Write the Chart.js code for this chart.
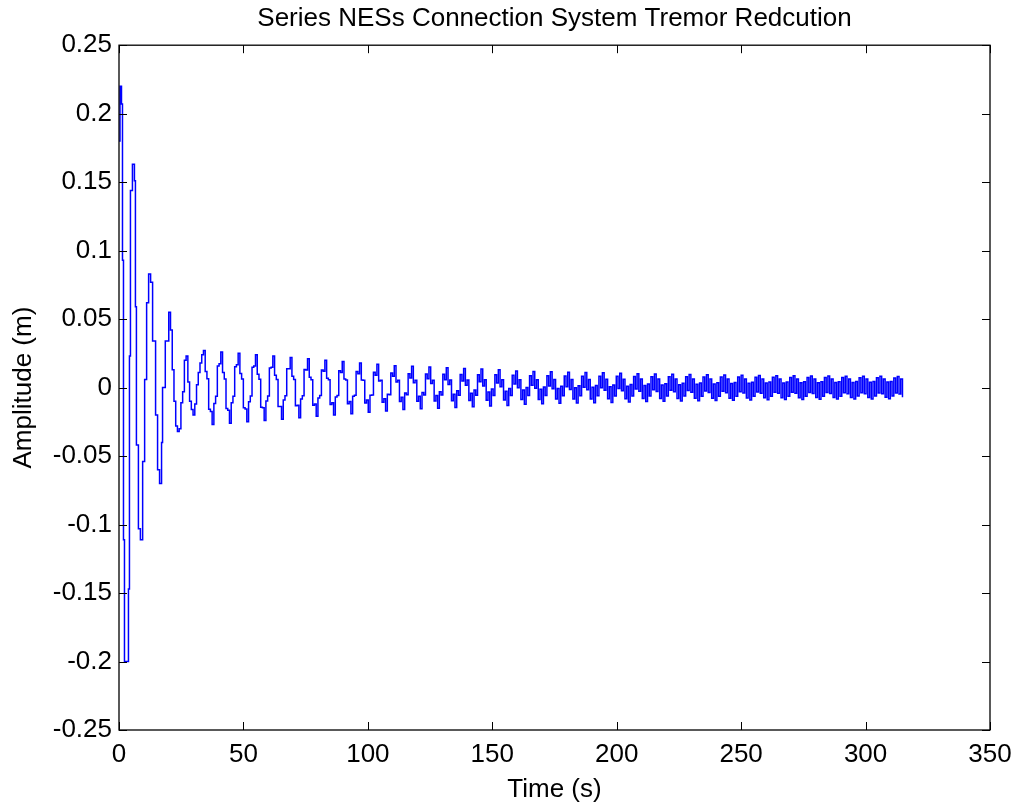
<!DOCTYPE html>
<html>
<head>
<meta charset="utf-8">
<title>Series NESs Connection System Tremor Redcution</title>
<script src="https://cdn.jsdelivr.net/npm/chart.js@4.4.0/dist/chart.umd.min.js"></script>
<style>
  html, body { margin: 0; padding: 0; background: #fff; }
  #wrap { width: 1013px; height: 805px; }
</style>
</head>
<body>
<div id="wrap"><canvas id="myChart" width="1013" height="805"></canvas></div>
<script>
// start-up transient, read step by step (time in s, amplitude in m)
var earlyTime = [0, 0.4, 1.0, 1.4, 1.8, 2.2, 3.8, 4.2, 4.6, 5.4,
                 6.2, 6.6, 7.0, 7.8, 8.6, 9.5, 10.3, 11.1, 11.9, 12.7,
                 13.5, 14.7, 15.5, 16.3, 17.1, 17.5, 18.6];
var earlyAmp = [0.18, 0.22, 0.207, 0.093, -0.111, -0.2, -0.147, 0.023, 0.144, 0.163,
                0.151, 0.059, -0.042, -0.103, -0.111, -0.054, 0.006, 0.062, 0.083, 0.077,
                0.034, -0.02, -0.06, -0.07, -0.04, 0.0, 0.034];

// rest of the record: held samples every 0.697 s from t = 20 s
var sampleStart = 20;
var sampleStep = 0.697;
var sampledAmp = [
  0.055, 0.042, 0.013, -0.010, -0.028, -0.032, -0.030, -0.011, -0.003, 0.020,
  0.023, 0.004, -0.010, -0.016, -0.020, -0.012, 0.002, 0.011, 0.018, 0.024,
  0.0270, 0.0117, 0.0064, -0.0158, -0.0175, -0.0270, -0.0117, -0.0064, 0.0158, 0.0175,
  0.0260, 0.0110, 0.0063, -0.0153, -0.0166, -0.0260, -0.0110, -0.0063, 0.0153, 0.0166,
  0.0250, 0.0103, 0.0062, -0.0148, -0.0157, -0.0250, -0.0103, -0.0062, 0.0148, 0.0157,
  0.0240, 0.0097, 0.0061, -0.0143, -0.0148, -0.0240, -0.0097, -0.0061, 0.0143, 0.0148,
  0.0231, 0.0090, 0.0060, -0.0138, -0.0138, -0.0231, -0.0090, -0.0060, 0.0138, 0.0138,
  0.0220, 0.0083, 0.0059, -0.0133, -0.0128, -0.0220, -0.0083, -0.0059, 0.0133, 0.0128,
  0.0210, 0.0076, 0.0058, -0.0128, -0.0119, -0.0210, -0.0076, -0.0058, 0.0128, 0.0119,
  0.0200, 0.0069, 0.0057, -0.0123, -0.0110, -0.0200, -0.0069, -0.0057, 0.0123, 0.0110,
  0.0191, 0.0063, 0.0056, -0.0118, -0.0101, -0.0191, -0.0063, -0.0056, 0.0118, 0.0101,
  0.0180, 0.0055, 0.0054, -0.0112, -0.0091, -0.0180, -0.0055, -0.0054, 0.0112, 0.0091,
  0.0170, 0.0049, 0.0053, -0.0107, -0.0082, -0.0170, -0.0049, -0.0053, 0.0107, 0.0082,
  0.0160, 0.0040, 0.0053, -0.0102, -0.0071, -0.0160, -0.0040, -0.0053, 0.0102, 0.0071,
  0.0155, 0.0035, 0.0054, -0.0100, -0.0064, -0.0155, -0.0035, -0.0054, 0.0100, 0.0064,
  0.0151, 0.0030, 0.0054, -0.0098, -0.0058, -0.0151, -0.0030, -0.0054, 0.0098, 0.0058,
  0.0145, 0.0023, 0.0055, -0.0096, -0.0048, -0.0145, -0.0023, -0.0055, 0.0096, 0.0048,
  0.0140, 0.0018, 0.0056, -0.0094, -0.0042, -0.0140, -0.0018, -0.0056, 0.0094, 0.0042,
  0.0135, 0.0011, 0.0057, -0.0093, -0.0033, -0.0135, -0.0011, -0.0057, 0.0093, 0.0033,
  0.0130, 0.0006, 0.0057, -0.0091, -0.0027, -0.0130, -0.0006, -0.0057, 0.0091, 0.0027,
  0.0122, -0.0001, 0.0058, -0.0087, -0.0018, -0.0122, 0.0001, -0.0058, 0.0087, 0.0018,
  0.0118, -0.0005, 0.0058, -0.0086, -0.0012, -0.0118, 0.0005, -0.0058, 0.0086, 0.0012,
  0.0115, -0.0009, 0.0059, -0.0084, -0.0007, -0.0115, 0.0009, -0.0059, 0.0084, 0.0007,
  0.0112, -0.0013, 0.0059, -0.0083, -0.0002, -0.0112, 0.0013, -0.0059, 0.0083, 0.0002,
  0.0110, -0.0016, 0.0060, -0.0083, 0.0002, -0.0110, 0.0016, -0.0060, 0.0083, -0.0002,
  0.0108, -0.0019, 0.0061, -0.0082, 0.0006, -0.0108, 0.0019, -0.0061, 0.0082, -0.0006,
  0.0105, -0.0023, 0.0061, -0.0081, 0.0010, -0.0105, 0.0023, -0.0061, 0.0081, -0.0010,
  0.0102, -0.0026, 0.0062, -0.0080, 0.0015, -0.0102, 0.0026, -0.0062, 0.0080, -0.0015,
  0.0100, -0.0029, 0.0062, -0.0080, 0.0019, -0.0100, 0.0029, -0.0062, 0.0080, -0.0019,
  0.0098, -0.0031, 0.0062, -0.0079, 0.0021, -0.0098, 0.0031, -0.0062, 0.0079, -0.0021,
  0.0096, -0.0034, 0.0063, -0.0078, 0.0024, -0.0096, 0.0034, -0.0063, 0.0078, -0.0024,
  0.0094, -0.0035, 0.0063, -0.0077, 0.0026, -0.0094, 0.0035, -0.0063, 0.0077, -0.0026,
  0.0092, -0.0038, 0.0063, -0.0077, 0.0030, -0.0092, 0.0038, -0.0063, 0.0077, -0.0030,
  0.0090, -0.0039, 0.0063, -0.0076, 0.0032, -0.0090, 0.0039, -0.0063, 0.0076, -0.0032,
  0.0088, -0.0041, 0.0063, -0.0075, 0.0034, -0.0088, 0.0041, -0.0063, 0.0075, -0.0034,
  0.0087, -0.0041, 0.0063, -0.0074, 0.0034, -0.0087, 0.0041, -0.0063, 0.0074, -0.0034,
  0.0086, -0.0042, 0.0063, -0.0074, 0.0035, -0.0086, 0.0042, -0.0063, 0.0074, -0.0035,
  0.0085, -0.0043, 0.0063, -0.0073, 0.0036, -0.0085, 0.0043, -0.0063, 0.0073, -0.0036,
  0.0084, -0.0043, 0.0063, -0.0073, 0.0037, -0.0084, 0.0043, -0.0063, 0.0073, -0.0037,
  0.0083, -0.0044, 0.0062, -0.0072, 0.0038, -0.0083, 0.0044, -0.0062, 0.0072, -0.0038,
  0.0083, -0.0045, 0.0062, -0.0072, 0.0039, -0.0083, 0.0045, -0.0062, 0.0072, -0.0039,
  0.0082, -0.0045, 0.0062, -0.0071, 0.0040, -0.0082, 0.0045, -0.0062, 0.0071, -0.0040,
  0.0081, -0.0046, 0.0062, -0.0071
];

var xTicks = [0, 50, 100, 150, 200, 250, 300, 350];
var yTicks = [-0.25, -0.2, -0.15, -0.1, -0.05, 0, 0.05, 0.1, 0.15, 0.2, 0.25];

var points = [];
for (var i = 0; i < earlyTime.length; i++) {
    points.push({x: earlyTime[i], y: earlyAmp[i]});
}
for (var j = 0; j < sampledAmp.length; j++) {
    points.push({x: sampleStart + j * sampleStep, y: sampledAmp[j]});
}

var fontFamily = "'Liberation Sans', Arial, Helvetica, sans-serif";

// MATLAB style box with inward ticks on all four sides
var boxAxes = {
    id: 'boxAxes',
    afterDraw: function(chart) {
        var ctx = chart.ctx;
        var a = chart.chartArea;
        var xs = chart.scales.x, ys = chart.scales.y;
        var len = 8;
        ctx.save();
        ctx.strokeStyle = '#000';
        ctx.lineWidth = 1.3;
        ctx.strokeRect(a.left, a.top, a.right - a.left, a.bottom - a.top);
        ctx.lineWidth = 1;
        ctx.beginPath();
        xTicks.forEach(function(v) {
            var px = Math.round(xs.getPixelForValue(v)) + 0.5;
            ctx.moveTo(px, a.bottom); ctx.lineTo(px, a.bottom - len);
            ctx.moveTo(px, a.top); ctx.lineTo(px, a.top + len);
        });
        yTicks.forEach(function(v) {
            var py = Math.round(ys.getPixelForValue(v)) + 0.5;
            ctx.moveTo(a.left, py); ctx.lineTo(a.left + len, py);
            ctx.moveTo(a.right, py); ctx.lineTo(a.right - len, py);
        });
        ctx.stroke();
        ctx.restore();
    }
};

var ctx = document.getElementById('myChart').getContext('2d');
var myChart = new Chart(ctx, {
    type: 'line',
    data: {
        datasets: [{
            data: points,
            borderColor: '#0000ff',
            borderWidth: 1.5,
            pointRadius: 0,
            stepped: true,
            fill: false
        }]
    },
    options: {
        responsive: false,
        animation: false,
        layout: { padding: { left: 0, right: 23, top: 0, bottom: 0 } },
        plugins: {
            legend: { display: false },
            tooltip: { enabled: false },
            title: {
                display: true,
                fullSize: false,
                text: 'Series NESs Connection System Tremor Redcution',
                color: '#000',
                font: { family: fontFamily, size: 26, weight: 'normal' },
                padding: { top: 3, bottom: 11 }
            }
        },
        scales: {
            x: {
                type: 'linear',
                min: 0,
                max: 350,
                afterBuildTicks: function(scale) {
                    scale.ticks = xTicks.map(function(v) { return {value: v}; });
                },
                afterFit: function(scale) {
                    scale.height = 75;
                    scale.paddingLeft = 0;
                    scale.paddingRight = 0;
                },
                grid: { display: false, drawTicks: false },
                border: { display: false },
                ticks: {
                    color: '#000',
                    padding: 9,
                    maxRotation: 0,
                    font: { family: fontFamily, size: 26 }
                },
                title: {
                    display: true,
                    text: 'Time (s)',
                    color: '#000',
                    font: { family: fontFamily, size: 26 },
                    padding: { top: 0, bottom: 0 }
                }
            },
            y: {
                type: 'linear',
                min: -0.25,
                max: 0.25,
                afterBuildTicks: function(scale) {
                    scale.ticks = yTicks.map(function(v) { return {value: v}; });
                },
                afterFit: function(scale) {
                    scale.width = 119;
                    scale.paddingTop = 0;
                    scale.paddingBottom = 0;
                },
                grid: { display: false, drawTicks: false },
                border: { display: false },
                ticks: {
                    color: '#000',
                    padding: 7,
                    font: { family: fontFamily, size: 26 },
                    callback: function(v) { return String(Number(Number(v).toFixed(2))); }
                },
                title: {
                    display: true,
                    text: 'Amplitude (m)',
                    color: '#000',
                    font: { family: fontFamily, size: 26 },
                    padding: { top: 8, bottom: 0 }
                }
            }
        }
    },
    plugins: [boxAxes]
});
</script>
</body>
</html>
